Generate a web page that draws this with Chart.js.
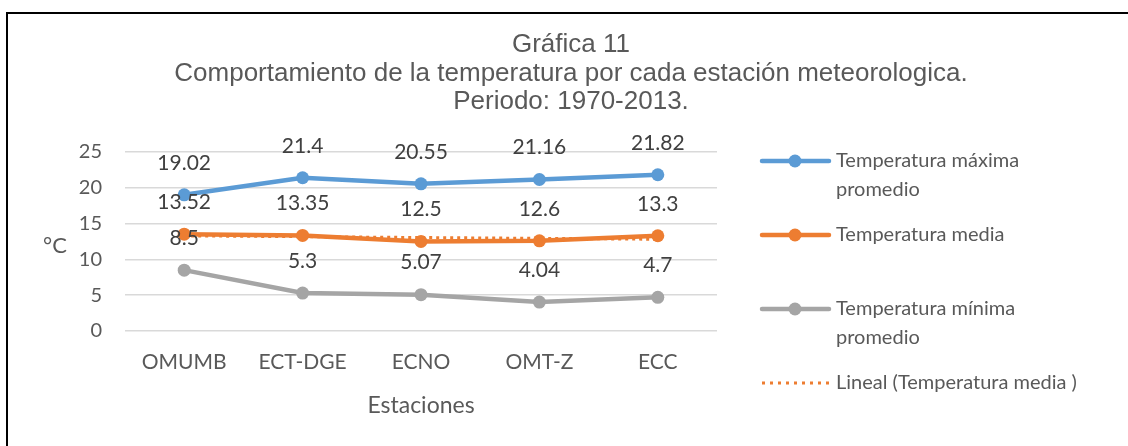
<!DOCTYPE html>
<html lang="es">
<head>
<meta charset="utf-8">
<title>Gráfica 11</title>
<script src="https://cdn.jsdelivr.net/npm/chart.js@4/dist/chart.umd.min.js"></script>
<style>
  html, body { margin: 0; padding: 0; background: #fff; }
  #wrap { position: relative; width: 1128px; height: 446px; overflow: hidden; }
  #frame { position: absolute; left: 6px; top: 12px; right: -4px; bottom: -4px;
           border-top: 2px solid #000; border-left: 2px solid #000; pointer-events: none; }
  canvas { position: absolute; left: 0; top: 0; }
</style>
</head>
<body>
<div id="wrap">
  <canvas id="chart" width="1128" height="446"></canvas>
  <div id="frame"></div>
</div>
<script>
// Series -------------------------------------------------------------------
var estaciones = ["OMUMB", "ECT-DGE", "ECNO", "OMT-Z", "ECC"];
var tMaxima = [19.02, 21.4, 20.55, 21.16, 21.82];
var tMedia = [13.52, 13.35, 12.5, 12.6, 13.3];
var tMinima = [8.5, 5.3, 5.07, 4.04, 4.7];
var yTicks = [0, 5, 10, 15, 20, 25];

var tituloLineas = [
  "Gráfica 11",
  "Comportamiento de la temperatura por cada estación meteorologica.",
  "Periodo: 1970-2013."
];
var leyenda = [
  ["Temperatura máxima", "promedio"],
  ["Temperatura media"],
  ["Temperatura mínima", "promedio"],
  ["Lineal (Temperatura media )"]
];

// least-squares line through the mean temperatures (Excel "Lineal" trendline)
function linearFit(values) {
  var n = values.length, sx = 0, sy = 0, sxy = 0, sxx = 0;
  values.forEach(function (v, i) { var x = i + 1; sx += x; sy += v; sxy += x * v; sxx += x * x; });
  var m = (n * sxy - sx * sy) / (n * sxx - sx * sx);
  var b = (sy - m * sx) / n;
  return values.map(function (v, i) { return +(m * (i + 1) + b).toFixed(4); });
}

var BLUE = "#5B9BD5", ORANGE = "#ED7D31", GREY = "#A5A5A5", TXT = "#595959";
var SANS = "Lato, 'Open Sans', sans-serif";
var TITLE_FONT = "'Liberation Sans', Arial, sans-serif";

function serie(label, data, color) {
  return {
    label: label, data: data, borderColor: color, backgroundColor: color,
    borderWidth: 4.5, pointRadius: 6.5, pointHoverRadius: 6.5,
    pointBorderWidth: 0, tension: 0
  };
}

// title, °C label, value labels and the two-line legend are drawn here
var decor = {
  id: "decor",
  afterDatasetsDraw: function (chart) {
    var ctx = chart.ctx;
    ctx.save();
    ctx.textBaseline = "middle";

    // value labels above each point
    ctx.fillStyle = "#404040";
    ctx.font = "21px " + SANS;
    ctx.textAlign = "center";
    [0, 1, 2].forEach(function (d) {
      var meta = chart.getDatasetMeta(d);
      chart.data.datasets[d].data.forEach(function (v, i) {
        var p = meta.data[i];
        ctx.fillText(String(v), p.x, p.y - 32);
      });
    });

    // title
    ctx.fillStyle = TXT;
    ctx.font = "26px " + TITLE_FONT;
    var ty = [45, 74, 102];
    tituloLineas.forEach(function (t, i) { ctx.fillText(t, 571, ty[i]); });

    // y axis unit
    ctx.font = "22px " + SANS;
    ctx.fillText("°C", 55, 246);

    // legend
    var ly = [161, 235, 309, 383];
    ctx.font = "20px " + SANS;
    ctx.textAlign = "left";
    chart.data.datasets.forEach(function (ds, d) {
      var y = ly[d];
      ctx.strokeStyle = ds.borderColor;
      ctx.lineWidth = d === 3 ? 3 : 4.5;
      ctx.lineCap = d === 3 ? "butt" : "round";
      ctx.setLineDash(d === 3 ? [3, 5] : []);
      ctx.beginPath();
      ctx.moveTo(762, y);
      ctx.lineTo(829, y);
      ctx.stroke();
      ctx.setLineDash([]);
      if (d < 3) {
        ctx.fillStyle = ds.borderColor;
        ctx.beginPath();
        ctx.arc(795, y, 6.5, 0, Math.PI * 2);
        ctx.fill();
      }
      ctx.fillStyle = TXT;
      leyenda[d].forEach(function (line, k) { ctx.fillText(line, 836, y + k * 29); });
    });
    ctx.restore();
  }
};

new Chart(document.getElementById("chart"), {
  type: "line",
  data: {
    labels: estaciones,
    datasets: [
      serie("Temperatura máxima promedio", tMaxima, BLUE),
      serie("Temperatura media", tMedia, ORANGE),
      serie("Temperatura mínima promedio", tMinima, GREY),
      {
        label: "Lineal (Temperatura media )", data: linearFit(tMedia),
        borderColor: ORANGE, backgroundColor: ORANGE, borderWidth: 3,
        borderDash: [3, 4], pointRadius: 0, tension: 0
      }
    ]
  },
  options: {
    responsive: false,
    animation: false,
    layout: { padding: { left: 0, top: 152, right: 411, bottom: 0 } },
    plugins: { legend: { display: false }, title: { display: false }, tooltip: { enabled: false } },
    scales: {
      x: {
        offset: true,
        grid: { display: false, drawTicks: false },
        border: { display: false },
        ticks: { color: TXT, font: { family: SANS, size: 21 }, padding: 19, maxRotation: 0 },
        title: { display: true, text: "Estaciones", color: TXT,
                 font: { family: SANS, size: 23 }, padding: { top: 0, bottom: 27 } },
        afterFit: function (s) { s.height = 115; }
      },
      y: {
        min: 0, max: 25,
        afterBuildTicks: function (s) { s.ticks = yTicks.map(function (v) { return { value: v }; }); },
        grid: { color: "#D9D9D9", lineWidth: 1.5, drawTicks: false },
        border: { display: false },
        ticks: { color: TXT, font: { family: SANS, size: 20 }, padding: 23 },
        afterFit: function (s) { s.width = 125; }
      }
    }
  },
  plugins: [decor]
});
</script>
</body>
</html>
